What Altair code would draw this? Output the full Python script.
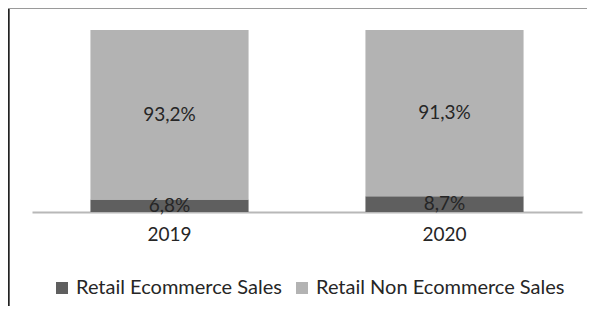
import altair as alt
import pandas as pd

years = ["2019", "2020"]
series = ["Retail Ecommerce Sales", "Retail Non Ecommerce Sales"]
ecommerce = [6.8, 8.7]
non_ecommerce = [93.2, 91.3]
colors = ["#5f5f5f", "#b3b3b3"]

rows = []
for i, y in enumerate(years):
    rows.append({"year": y, "series": series[0], "value": ecommerce[i], "idx": 0})
    rows.append({"year": y, "series": series[1], "value": non_ecommerce[i], "idx": 1})
df = pd.DataFrame(rows)

FONT = "Lato"
W, H = 550, 182
TXT = "#262626"

base = alt.Chart(df)

bars = base.mark_bar().encode(
    x=alt.X("year:N", title=None,
            scale=alt.Scale(paddingInner=0.425, paddingOuter=0.2125),
            axis=alt.Axis(labelAngle=0, ticks=False, domainColor="#b8b8b8",
                          domainWidth=2, labelFont=FONT, labelFontSize=19,
                          labelColor=TXT, labelPadding=13)),
    y=alt.Y("value:Q", stack="zero", scale=alt.Scale(domain=[0, 100], nice=False),
            axis=None),
    color=alt.Color("series:N", scale=alt.Scale(domain=series, range=colors),
                    legend=alt.Legend(title=None, orient="none", direction="horizontal",
                                      legendX=20, legendY=H + 66,
                                      symbolType="square", symbolSize=144,
                                      symbolStrokeWidth=0, symbolOpacity=1,
                                      labelFont=FONT, labelFontSize=20,
                                      labelColor=TXT, labelOffset=4,
                                      columnPadding=10, padding=0, labelLimit=400)),
    order=alt.Order("idx:Q"),
)

labels = base.transform_stack(
    stack="value", as_=["v0", "v1"], groupby=["year"], sort=[alt.SortField("idx")]
).transform_calculate(
    mid="(datum.v0 + datum.v1) / 2",
    label="replace(format(datum.value, '.1f'), '.', ',') + '%'"
).mark_text(font=FONT, fontSize=19, color=TXT, baseline="middle").encode(
    x="year:N",
    y=alt.Y("mid:Q"),
    text="label:N",
)

frame_left = base.mark_rule(color="#222222", strokeWidth=1.5).encode(
    x=alt.value(-23.5), y=alt.value(-22), y2=alt.value(276)
)
frame_top = base.mark_rule(color="#9a9a9a", strokeWidth=1).encode(
    x=alt.value(-24), x2=alt.value(555), y=alt.value(-21.5)
)

chart = alt.layer(bars, labels, frame_left, frame_top).properties(
    width=W, height=H,
    autosize=alt.AutoSizeParams(type="none"),
    padding={"left": 24, "top": 22, "right": 5, "bottom": 94},
).configure_view(stroke=None)

chart.save("out.html", embed_options={"renderer": "svg", "actions": False})
